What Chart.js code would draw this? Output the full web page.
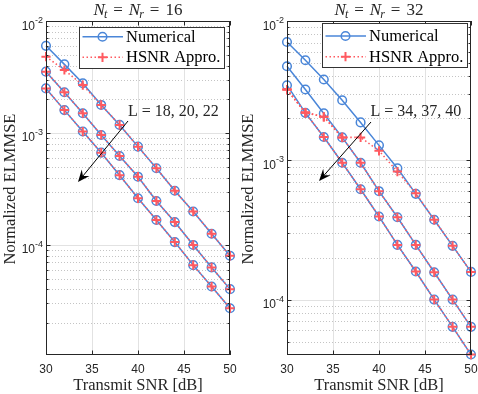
<!DOCTYPE html>
<html><head><meta charset="utf-8">
<script src="https://cdn.jsdelivr.net/npm/chart.js@4.4.0/dist/chart.umd.min.js"></script>
<style>
html,body{margin:0;padding:0;background:#fff;}
#wrap{position:relative;width:478px;height:394px;overflow:hidden;background:#fff;}
canvas{position:absolute;top:0;}
</style></head><body>
<div id="wrap">
<canvas id="c1" width="239" height="394" style="left:0px"></canvas>
<canvas id="c2" width="239" height="394" style="left:239px"></canvas>
</div>
<script>
// ---------- data ----------
const snr = [30, 32, 34, 36, 38, 40, 42, 44, 46, 48, 50];
const xTicks = [30, 35, 40, 45, 50];

// Nt = Nr = 16
const num16_L18  = [6.0e-3, 4.1e-3, 2.78e-3, 1.78e-3, 1.18e-3, 7.55e-4, 4.84e-4, 3.05e-4, 1.99e-4, 1.26e-4, 8.0e-5];
const hsnr16_L18 = [4.8e-3, 3.65e-3, 2.68e-3, 1.78e-3, 1.18e-3, 7.55e-4, 4.84e-4, 3.05e-4, 1.99e-4, 1.26e-4, 8.0e-5];
const num16_L20  = [3.53e-3, 2.31e-3, 1.5e-3, 9.6e-4, 6.23e-4, 4.07e-4, 2.47e-4, 1.6e-4, 1.0e-4, 6.3e-5, 4.03e-5];
const hsnr16_L20 = [3.53e-3, 2.31e-3, 1.5e-3, 9.6e-4, 6.23e-4, 4.07e-4, 2.47e-4, 1.6e-4, 1.0e-4, 6.3e-5, 4.03e-5];
const num16_L22  = [2.5e-3, 1.6e-3, 1.03e-3, 6.67e-4, 4.2e-4, 2.61e-4, 1.67e-4, 1.06e-4, 6.6e-5, 4.25e-5, 2.72e-5];
const hsnr16_L22 = [2.5e-3, 1.6e-3, 1.03e-3, 6.67e-4, 4.2e-4, 2.61e-4, 1.67e-4, 1.06e-4, 6.6e-5, 4.25e-5, 2.72e-5];
const yTickExp16 = [-4, -3, -2];

// Nt = Nr = 32
const num32_L34  = [7.07e-3, 5.23e-3, 3.8e-3, 2.7e-3, 1.87e-3, 1.28e-3, 8.77e-4, 5.74e-4, 3.74e-4, 2.43e-4, 1.58e-4];
const hsnr32_L34 = [3.22e-3, 2.2e-3, 2.05e-3, 1.46e-3, 1.46e-3, 1.17e-3, 8.3e-4, 5.8e-4, 3.74e-4, 2.43e-4, 1.58e-4];
const num32_L37  = [4.73e-3, 3.22e-3, 2.17e-3, 1.46e-3, 9.6e-4, 6.0e-4, 3.9e-4, 2.47e-4, 1.57e-4, 1.0e-4, 6.37e-5];
const hsnr32_L37 = [3.22e-3, 2.2e-3, 2.05e-3, 1.46e-3, 9.6e-4, 6.0e-4, 3.9e-4, 2.47e-4, 1.57e-4, 1.0e-4, 6.37e-5];
const num32_L40  = [3.46e-3, 2.19e-3, 1.47e-3, 9.6e-4, 6.2e-4, 3.95e-4, 2.47e-4, 1.59e-4, 1.0e-4, 6.37e-5, 4.03e-5];
const hsnr32_L40 = [3.22e-3, 2.19e-3, 1.47e-3, 9.6e-4, 6.2e-4, 3.95e-4, 2.47e-4, 1.59e-4, 1.0e-4, 6.37e-5, 4.03e-5];
const yTickExp32 = [-4, -3, -2];

const legendLabels = ['Numerical', 'HSNR Appro.'];
const xTitle = 'Transmit SNR [dB]';
const yTitle = 'Normalized ELMMSE';

// ---------- style ----------
const BLUE = '#4a86d8';
const RED = '#ff5a60';
const AX = '#262626';
const SERIF = '"Liberation Serif", "Times New Roman", serif';
const SANS = '"Liberation Sans", Arial, sans-serif';

function toXY(arr){ return arr.map((v,i)=>({x:snr[i], y:v})); }

function mkSets(nums, hsnrs){
  const s = [];
  nums.forEach(a=>s.push({
    data: toXY(a), borderColor: BLUE, backgroundColor: 'rgba(0,0,0,0)', borderWidth: 1.5,
    pointStyle: 'circle', pointRadius: 4.3, pointBorderWidth: 1.5, pointBorderColor: BLUE,
    pointBackgroundColor: 'rgba(0,0,0,0)', order: 2, clip: false, tension: 0, fill: false
  }));
  hsnrs.forEach(a=>s.push({
    data: toXY(a), borderColor: RED, backgroundColor: 'rgba(0,0,0,0)', borderWidth: 1.6,
    borderDash: [1.5, 2.5], pointStyle: 'cross', pointRadius: 4.6, pointBorderWidth: 2,
    pointBorderColor: RED, order: 1, clip: false, tension: 0, fill: false
  }));
  return s;
}

function decoPlugin(cfg){
  return {
    id: 'deco',
    beforeDatasetsDraw(chart){
      const {ctx, chartArea:a, scales:{x, y}} = chart;
      ctx.save();
      ctx.lineWidth = 1;
      ctx.strokeStyle = '#c4c4c4';
      ctx.setLineDash([1, 2]);
      const lo = Math.floor(Math.log10(cfg.ymin)), hi = Math.ceil(Math.log10(cfg.ymax));
      for (let d = lo; d < hi; d++){
        for (let k = 2; k <= 9; k++){
          const v = k * Math.pow(10, d);
          if (v <= cfg.ymin || v >= cfg.ymax) continue;
          const py = Math.round(y.getPixelForValue(v)) + 0.5;
          ctx.beginPath(); ctx.moveTo(a.left, py); ctx.lineTo(a.right, py); ctx.stroke();
        }
      }
      ctx.setLineDash([]);
      ctx.strokeStyle = '#e2e2e2';
      cfg.yExp.forEach(e=>{
        const v = Math.pow(10, e);
        if (v <= cfg.ymin || v >= cfg.ymax) return;
        const py = Math.round(y.getPixelForValue(v)) + 0.5;
        ctx.beginPath(); ctx.moveTo(a.left, py); ctx.lineTo(a.right, py); ctx.stroke();
      });
      xTicks.forEach(t=>{
        if (t <= 30 || t >= 50) return;
        const px = Math.round(x.getPixelForValue(t)) + 0.5;
        ctx.beginPath(); ctx.moveTo(px, a.top); ctx.lineTo(px, a.bottom); ctx.stroke();
      });
      ctx.restore();
    },
    afterDatasetsDraw(chart){
      const {ctx, chartArea:a, scales:{x, y}} = chart;
      ctx.save();
      ctx.strokeStyle = AX; ctx.lineWidth = 1;
      ctx.strokeRect(a.left + 0.5, a.top + 0.5, a.right - a.left - 1, a.bottom - a.top - 1);
      ctx.beginPath();
      const lo = Math.floor(Math.log10(cfg.ymin)), hi = Math.ceil(Math.log10(cfg.ymax));
      for (let d = lo; d < hi; d++){
        for (let k = 2; k <= 9; k++){
          const v = k * Math.pow(10, d);
          if (v <= cfg.ymin || v >= cfg.ymax) continue;
          const py = Math.round(y.getPixelForValue(v)) + 0.5;
          ctx.moveTo(a.left, py); ctx.lineTo(a.left + 2.5, py);
          ctx.moveTo(a.right, py); ctx.lineTo(a.right - 2.5, py);
        }
      }
      cfg.yExp.forEach(e=>{
        const py = Math.round(y.getPixelForValue(Math.pow(10, e))) + 0.5;
        ctx.moveTo(a.left, py); ctx.lineTo(a.left + 4.5, py);
        ctx.moveTo(a.right, py); ctx.lineTo(a.right - 4.5, py);
      });
      xTicks.forEach(t=>{
        const px = Math.round(x.getPixelForValue(t)) + 0.5;
        ctx.moveTo(px, a.bottom); ctx.lineTo(px, a.bottom - 4.5);
        ctx.moveTo(px, a.top); ctx.lineTo(px, a.top + 4.5);
      });
      ctx.stroke();

      ctx.fillStyle = AX;
      ctx.font = '12px ' + SANS;
      ctx.textAlign = 'center'; ctx.textBaseline = 'alphabetic';
      xTicks.forEach(t=>{
        ctx.fillText(String(t), x.getPixelForValue(t), a.bottom + 18);
      });
      cfg.yExp.forEach(e=>{
        const py = y.getPixelForValue(Math.pow(10, e));
        const ex = '-' + Math.abs(e);
        ctx.font = '9px ' + SANS;
        const ew = ctx.measureText(ex).width;
        ctx.textAlign = 'right';
        const right = a.left - 3;
        ctx.fillText(ex, right, py + 2);
        ctx.font = '12px ' + SANS;
        ctx.fillText('10', right - ew, py + 8.5);
      });

      ctx.fillStyle = AX;
      ctx.font = '16.5px ' + SERIF;
      ctx.textAlign = 'center'; ctx.textBaseline = 'alphabetic';
      const cx = (a.left + a.right) / 2;
      ctx.fillText(xTitle, cx, 390);
      ctx.save();
      ctx.translate(cfg.yLabX, (a.top + a.bottom) / 2 + 1);
      ctx.rotate(-Math.PI / 2);
      ctx.fillText(yTitle, 0, 0);
      ctx.restore();

      const big = 'italic 17px ' + SERIF, sub = 'italic 12px ' + SERIF, rom = '17px ' + SERIF;
      const parts = [
        {t:'N', f:big, dy:0}, {t:'t', f:sub, dy:3.5, k:-1}, {g:6}, {t:'=', f:rom, dy:0}, {g:6},
        {t:'N', f:big, dy:0}, {t:'r', f:sub, dy:3.5, k:-1}, {g:6}, {t:'=', f:rom, dy:0}, {g:6},
        {t:cfg.n, f:rom, dy:0}
      ];
      let tw = 0;
      parts.forEach(p=>{ if (p.g) { tw += p.g; } else { ctx.font = p.f; p.w = ctx.measureText(p.t).width; tw += p.w + (p.k||0); } });
      let px = cx - tw / 2;
      ctx.textAlign = 'left';
      parts.forEach(p=>{
        if (p.g) { px += p.g; return; }
        px += (p.k||0);
        ctx.font = p.f; ctx.fillText(p.t, px, 14.5 + p.dy); px += p.w;
      });

      ctx.font = '16px ' + SERIF;
      ctx.textAlign = 'left';
      ctx.fillText(cfg.ann, cfg.annX, cfg.annY);
      const [x0, y0, x1, y1] = cfg.arrow;
      ctx.strokeStyle = '#000'; ctx.fillStyle = '#000'; ctx.lineWidth = 1;
      const dx = x1 - x0, dy = y1 - y0, L = Math.hypot(dx, dy), ux = dx / L, uy = dy / L, nx = -uy, ny = ux;
      const HL = 12, HW = 5;
      ctx.beginPath(); ctx.moveTo(x0, y0); ctx.lineTo(x1 - ux * HL * 0.6, y1 - uy * HL * 0.6); ctx.stroke();
      ctx.beginPath();
      ctx.moveTo(x1, y1);
      ctx.lineTo(x1 - ux * HL + nx * HW, y1 - uy * HL + ny * HW);
      ctx.lineTo(x1 - ux * HL * 0.65, y1 - uy * HL * 0.65);
      ctx.lineTo(x1 - ux * HL - nx * HW, y1 - uy * HL - ny * HW);
      ctx.closePath(); ctx.fill();

      const lg = cfg.leg;
      ctx.fillStyle = '#fff';
      ctx.fillRect(lg.x, lg.y, lg.w, lg.h);
      ctx.strokeStyle = '#333'; ctx.lineWidth = 1;
      ctx.strokeRect(lg.x + 0.5, lg.y + 0.5, lg.w - 1, lg.h - 1);
      ctx.strokeStyle = BLUE; ctx.lineWidth = 1.5;
      ctx.beginPath(); ctx.moveTo(lg.x + 3.5, lg.r1); ctx.lineTo(lg.x + 44, lg.r1); ctx.stroke();
      ctx.beginPath(); ctx.arc(lg.x + 23.5, lg.r1, 4.3, 0, Math.PI * 2); ctx.stroke();
      ctx.strokeStyle = RED; ctx.lineWidth = 1.6; ctx.setLineDash([1.5, 2.5]);
      ctx.beginPath(); ctx.moveTo(lg.x + 3.5, lg.r2); ctx.lineTo(lg.x + 44, lg.r2); ctx.stroke();
      ctx.setLineDash([]); ctx.lineWidth = 2;
      ctx.beginPath();
      ctx.moveTo(lg.x + 23.5 - 4.6, lg.r2); ctx.lineTo(lg.x + 23.5 + 4.6, lg.r2);
      ctx.moveTo(lg.x + 23.5, lg.r2 - 4.6); ctx.lineTo(lg.x + 23.5, lg.r2 + 4.6);
      ctx.stroke();
      ctx.fillStyle = '#000';
      ctx.font = '16.5px ' + SERIF;
      ctx.textAlign = 'left'; ctx.textBaseline = 'alphabetic';
      ctx.fillText(legendLabels[0], lg.x + 47, lg.r1 + 5);
      ctx.fillText(legendLabels[1], lg.x + 47, lg.r2 + 5);
      ctx.restore();
    }
  };
}

function mkChart(id, sets, cfg){
  return new Chart(document.getElementById(id), {
    type: 'line',
    data: { datasets: sets },
    options: {
      responsive: false, animation: false, devicePixelRatio: 1, events: [],
      layout: { padding: cfg.pad, autoPadding: false },
      plugins: { legend: {display: false}, tooltip: {enabled: false}, title: {display: false} },
      scales: {
        x: { type: 'linear', min: 30, max: 50, display: false },
        y: { type: 'logarithmic', min: cfg.ymin, max: cfg.ymax, display: false }
      }
    },
    plugins: [decoPlugin(cfg)]
  });
}

mkChart('c1', mkSets([num16_L18, num16_L20, num16_L22], [hsnr16_L18, hsnr16_L20, hsnr16_L22]), {
  pad: {left: 46, right: 9, top: 21, bottom: 39},
  ymin: 1.04e-5, ymax: 1e-2, yExp: yTickExp16, n: '16',
  yLabX: 15, ann: 'L = 18, 20, 22', annX: 128, annY: 115.5,
  arrow: [128, 121, 78, 182],
  leg: {x: 79, y: 27, w: 146, h: 42, r1: 36.7, r2: 57.3}
});
mkChart('c2', mkSets([num32_L34, num32_L37, num32_L40], [hsnr32_L34, hsnr32_L37, hsnr32_L40]), {
  pad: {left: 48, right: 7, top: 21, bottom: 39},
  ymin: 4e-5, ymax: 1e-2, yExp: yTickExp32, n: '32',
  yLabX: 14, ann: 'L = 34, 37, 40', annX: 131.5, annY: 116,
  arrow: [132, 122, 80, 181],
  leg: {x: 83, y: 23, w: 146, h: 45, r1: 36, r2: 56.7}
});
</script>
</body></html>
